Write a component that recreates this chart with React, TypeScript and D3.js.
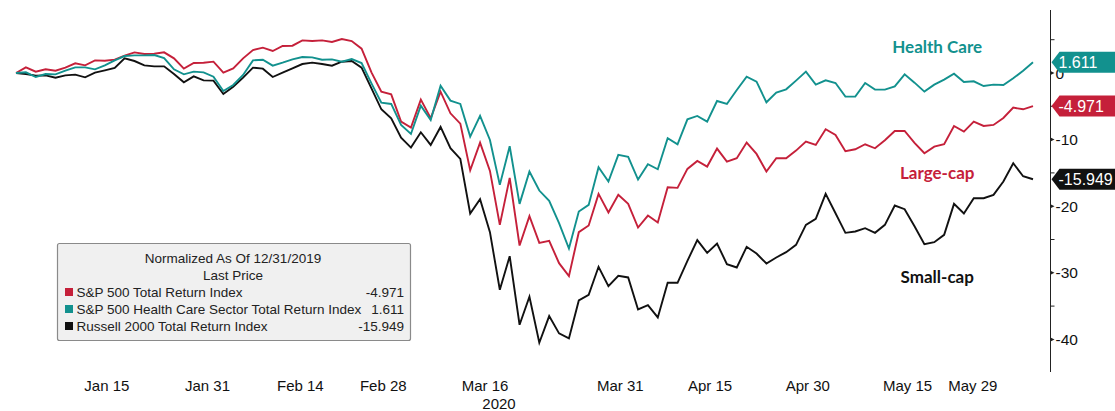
import React from "react";
import * as d3 from "d3";

const W = 1115;
const H = 411;

// Trading-day index 0 = 12/31/2019 ... 103 = 5/29/2020
const spx: number[] = [
  0, 0.85, 0.2, 0.55, 0.35, 0.8, 1.45, 1.15, 1.9, 1.85,
  2.0, 2.6, 3.1, 2.85, 2.9, 3.1, 2.2, 0.65, 1.5, 1.55,
  1.7, 0.05, 0.7, 2.2, 3.45, 3.8, 3.3, 4.05, 4.1, 4.9,
  4.8, 4.9, 4.65, 5.1, 4.8, 3.65, 0.1, -2.8, -3.2, -7.3,
  -8.2, -4.0, -6.8, -2.8, -6.05, -7.6, -14.6, -10.45, -14.7, -22.8,
  -15.75, -25.9, -21.5, -25.5, -25.2, -28.55, -30.5, -23.9, -22.9, -18.15,
  -20.95, -18.3, -19.65, -23.2, -21.4, -22.45, -17.15, -17.25, -14.4, -13.2,
  -14.05, -11.35, -13.3, -12.8, -10.45, -12.15, -14.8, -12.8, -12.8, -11.65,
  -10.3, -10.8, -8.45, -9.3, -11.75, -11.45, -10.7, -11.3, -10.1, -8.7,
  -8.7, -10.5, -12.05, -11.05, -10.7, -7.95, -8.8, -7.3, -7.95, -7.8,
  -6.75, -5.2, -5.45, -4.971,
];

const healthCare: number[] = [
  0, 0.1, -0.6, -0.15, -0.2, 0.35, 0.85, 0.85, 0.55, 1.15,
  1.9, 2.55, 2.65, 2.65, 2.7, 2.25, 0.55, -0.2, 0.2, 0.1,
  -0.55, -2.7, -1.8, -0.3, 1.9, 2.0, 1.1, 1.55, 2.05, 2.4,
  2.35, 2.0, 2.05, 1.7, 2.1, 1.5, -1.55, -4.45, -4.65, -7.8,
  -9.15, -4.9, -7.05, -1.9, -4.15, -4.65, -9.55, -6.45, -10.05, -16.8,
  -11.0, -19.65, -14.8, -17.65, -19.2, -22.55, -26.35, -20.8, -19.8, -14.15,
  -16.3, -12.3, -12.6, -16.0, -13.7, -14.45, -9.8, -10.7, -6.95, -6.45,
  -7.3, -4.2, -4.65, -2.55, -0.55, -1.3, -4.4, -2.95, -2.45, -1.15,
  0.2, -1.75, -1.1, -1.5, -3.55, -3.55, -1.5, -2.5, -2.5, -2.0,
  -0.2, -1.45, -2.8, -1.75, -1.0, -0.1, -1.35, -1.25, -1.95, -1.75,
  -1.8, -0.8, 0.35, 1.611,
];

const russell: number[] = [
  0, -0.15, -0.4, -0.35, -0.7, -0.35, -0.25, -0.65, 0.05, 0.4,
  0.75, 2.2, 1.8, 1.15, 1.0, 1.0, -0.15, -1.4, -0.5, -1.1,
  -1.15, -3.15, -2.05, -0.7, 0.8, 0.65, -0.6, 0.05, 0.7, 1.35,
  1.55, 1.35, 1.1, 1.7, 1.8, 0.8, -2.3, -5.45, -6.8, -9.7,
  -11.2, -8.9, -10.8, -8.1, -11.3, -12.9, -21.1, -18.95, -23.9, -32.55,
  -27.5, -37.8, -33.6, -40.5, -36.5, -39.1, -39.85, -34.15, -33.3, -29.1,
  -32.0, -30.45, -30.7, -35.5, -34.85, -36.7, -31.5, -31.5, -28.2, -25.1,
  -27.0, -25.6, -28.7, -29.2, -26.1, -27.1, -28.6, -27.7, -26.9, -25.8,
  -22.8, -21.9, -18.15, -21.05, -24.0, -23.8, -23.3, -24.0, -22.8, -19.9,
  -20.45, -23.0, -25.7, -25.4, -24.3, -19.65, -21.1, -18.8, -18.8, -18.3,
  -16.3, -13.55, -15.5, -15.949,
];

const seriesNames = [
  "S&P 500 Total Return Index",
  "S&P 500 Health Care Sector Total Return Index",
  "Russell 2000 Total Return Index",
];
const lastValues = ["-4.971", "1.611", "-15.949"];
const colors = ["#c5203a", "#12918e", "#111111"];
const annotations = ["Large-cap", "Health Care", "Small-cap"];

// x-axis labels and their positions on the trading-day index axis
const xTickLabels = ["Jan 15", "Jan 31", "Feb 14", "Feb 28", "Mar 16", "Mar 31", "Apr 15", "Apr 30", "May 15", "May 29"];
const xTickIdx = [9.2, 19.4, 28.8, 37.2, 47.5, 61.2, 70.3, 80.2, 90.3, 96.9];
const yearLabel = "2020";
const yMajor = [0, -10, -20, -30, -40];
const yMinor = [5, -5, -15, -25, -35];

export default function App() {
  const x = d3.scaleLinear().domain([0, spx.length - 1]).range([16, 1033]);
  const y = d3.scaleLinear().domain([0, -40]).range([73, 339.4]);
  const line = d3
    .line<number>()
    .x((_, i) => x(i))
    .y((d) => y(d));

  const data = [spx, healthCare, russell];
  const axisX = 1050.5;
  const font = "'Liberation Sans', Arial, sans-serif";

  // draw order: black, red, teal
  const order = [2, 0, 1];

  const annoPos = [
    { idx: 93.3, v: -15 },
    { idx: 93.3, v: 4 },
    { idx: 93.3, v: -30.5 },
  ];

  return (
    <svg
      width={W}
      height={H}
      style={{ position: "absolute", left: 0, top: 0, background: "#fff" }}
      fontFamily={font}
    >
      {/* lines */}
      {order.map((k) => (
        <path
          key={k}
          d={line(data[k]) || ""}
          fill="none"
          stroke={colors[k]}
          strokeWidth={1.9}
          strokeLinejoin="miter"
        />
      ))}

      {/* annotations */}
      {annotations.map((t, k) => (
        <text
          key={t}
          x={x(annoPos[k].idx)}
          y={y(annoPos[k].v)}
          textAnchor="middle"
          dominantBaseline="central"
          fill={colors[k]}
          fontFamily="Lato, 'Open Sans', sans-serif"
          fontWeight={700}
          fontSize={17}
        >
          {t}
        </text>
      ))}

      {/* right axis */}
      <line x1={axisX} x2={axisX} y1={10} y2={372} stroke="#222" strokeWidth={1} />
      {yMinor.map((v) => (
        <line key={"mi" + v} x1={axisX} x2={axisX + 4} y1={y(v)} y2={y(v)} stroke="#222" strokeWidth={1} />
      ))}
      {yMajor.map((v) => (
        <g key={"ma" + v}>
          <path d={`M${axisX},${y(v) - 2}L${axisX + 4},${y(v)}L${axisX},${y(v) + 2}Z`} fill="#222" />
          <text x={axisX + 5} y={y(v)} dominantBaseline="central" fontSize={15.5} fill="#111">
            {v === 0 ? "0" : "-" + Math.abs(v)}
          </text>
        </g>
      ))}

      {/* value tags */}
      {[1, 0, 2].map((k) => {
        const v = data[k][data[k].length - 1];
        const cy = y(v);
        const h = 10.5;
        const x0 = axisX + 1;
        return (
          <g key={"tag" + k}>
            <path
              d={`M${x0},${cy}L${x0 + 8},${cy - h}L${W},${cy - h}L${W},${cy + h}L${x0 + 8},${cy + h}Z`}
              fill={colors[k]}
            />
            <text x={x0 + 7} y={cy + 0.5} dominantBaseline="central" fontSize={16} fill="#fff">
              {lastValues[k]}
            </text>
          </g>
        );
      })}

      {/* x labels */}
      {xTickLabels.map((t, i) => (
        <text key={t} x={x(xTickIdx[i])} y={385} textAnchor="middle" dominantBaseline="central" fontSize={15} fill="#111">
          {t}
        </text>
      ))}
      <text x={x(xTickIdx[4]) + 14} y={403} textAnchor="middle" dominantBaseline="central" fontSize={15} fill="#111">
        {yearLabel}
      </text>

      {/* legend */}
      <g>
        <rect x={57.5} y={243.5} width={353} height={97} rx={2} fill="#f0f0f0" stroke="#8a8a8a" strokeWidth={1.2} />
        <text x={233} y={258} textAnchor="middle" dominantBaseline="central" fontSize={13.5} fill="#222">
          Normalized As Of 12/31/2019
        </text>
        <text x={233} y={275} textAnchor="middle" dominantBaseline="central" fontSize={13.5} fill="#222">
          Last Price
        </text>
        {seriesNames.map((n, k) => (
          <g key={n}>
            <rect x={65} y={288 + k * 17} width={8} height={8} fill={colors[k]} />
            <text x={76.5} y={292 + k * 17} dominantBaseline="central" fontSize={13.5} fill="#222">
              {n}
            </text>
            <text x={404} y={292 + k * 17} textAnchor="end" dominantBaseline="central" fontSize={13.5} fill="#222">
              {lastValues[k]}
            </text>
          </g>
        ))}
      </g>
    </svg>
  );
}
